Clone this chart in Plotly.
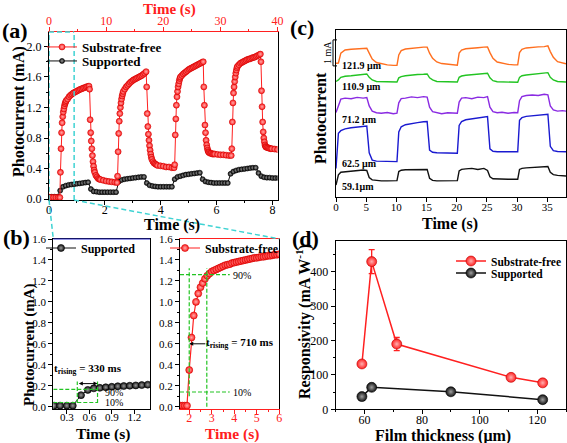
import plotly.graph_objects as go

W, H = 567, 443
FONT = "Liberation Serif"
RED = "#ff2020"
CYAN = "#3fd3d3"
GREEN = "#22c422"

# ---------------- data ----------------
# (a) substrate-free photocurrent (top time axis, 0-40 s), mA
red_pre_t = [0.0, 0.4, 0.8, 1.2, 1.6, 1.9]
red_pre_v = [0.02, 0.02, 0.02, 0.02, 0.02, 0.02]
red_on_times = [2, 12, 22, 32]
red_rel_t = [0.0, 0.1, 0.2, 0.3, 0.4, 0.5, 0.6, 0.7, 0.8, 0.9, 1.0,
             1.25, 1.5, 1.75, 2.0, 2.25, 2.5, 2.75, 3.0, 3.25, 3.5, 3.75, 4.0, 4.25, 4.5, 4.75, 5.0,
             5.1, 5.2, 5.3, 5.4, 5.5, 5.6, 5.7, 5.8, 5.9, 6.0,
             6.2, 6.4, 6.6, 6.8, 7.0, 7.5, 8.0, 8.5, 9.0, 9.5, 9.9]
red_cycle1 = [0.35, 0.66, 0.87, 1.00, 1.08, 1.14, 1.18, 1.22, 1.25, 1.27, 1.29,
              1.31, 1.34, 1.36, 1.375, 1.39, 1.40, 1.41, 1.42, 1.43, 1.44, 1.445, 1.455, 1.46, 1.47, 1.475, 1.48,
              1.44, 1.04, 0.87, 0.76, 0.66, 0.57, 0.49, 0.43, 0.38, 0.35,
              0.31, 0.29, 0.27, 0.26, 0.255, 0.245, 0.235, 0.23, 0.225, 0.22, 0.215]
red_cycle2 = [0.30, 0.62, 0.86, 1.02, 1.12, 1.20, 1.26, 1.31, 1.35, 1.38, 1.41,
              1.44, 1.47, 1.49, 1.51, 1.53, 1.545, 1.56, 1.57, 1.58, 1.59, 1.60, 1.61, 1.62, 1.635, 1.65, 1.67,
              1.47, 1.12, 0.95, 0.85, 0.77, 0.70, 0.64, 0.59, 0.55, 0.52,
              0.49, 0.47, 0.46, 0.45, 0.44, 0.435, 0.43, 0.42, 0.42, 0.41, 0.41]
red_cycle3 = [0.45, 0.84, 1.05, 1.23, 1.34, 1.41, 1.47, 1.51, 1.55, 1.58, 1.60,
              1.62, 1.64, 1.655, 1.67, 1.685, 1.70, 1.71, 1.72, 1.73, 1.74, 1.75, 1.76, 1.77, 1.78, 1.79, 1.80,
              1.47, 1.23, 0.97, 0.87, 0.77, 0.71, 0.67, 0.64, 0.62, 0.61,
              0.60, 0.60, 0.59, 0.59, 0.59, 0.585, 0.58, 0.58, 0.575, 0.57, 0.57]
red_cycle4 = [0.66, 1.01, 1.26, 1.39, 1.47, 1.54, 1.60, 1.65, 1.69, 1.72, 1.74,
              1.76, 1.78, 1.79, 1.80, 1.81, 1.82, 1.83, 1.835, 1.84, 1.85, 1.855, 1.86, 1.87, 1.88, 1.89, 1.90,
              1.80, 1.42, 1.21, 1.01, 0.88, 0.80, 0.75, 0.71, 0.69, 0.68,
              0.675, 0.67, 0.665, 0.66, 0.66, 0.655, 0.65]

# (a) supported photocurrent (bottom time axis, 0-8.2 s, 0.1 s steps), mA
black_a_t = [round(0.1 * i, 1) for i in range(83)]
black_a_v = [0.03, 0.03, 0.03, 0.03, 0.11, 0.16, 0.175, 0.185, 0.19, 0.195,
             0.20, 0.205, 0.21, 0.215, 0.22, 0.13, 0.10, 0.095, 0.09, 0.09,
             0.09, 0.09, 0.09, 0.09, 0.09, 0.23, 0.25, 0.26, 0.265, 0.27,
             0.275, 0.28, 0.285, 0.29, 0.29, 0.21, 0.18, 0.17, 0.165, 0.16,
             0.16, 0.16, 0.16, 0.16, 0.16, 0.26, 0.29, 0.30, 0.31, 0.32,
             0.325, 0.33, 0.335, 0.34, 0.345, 0.26, 0.23, 0.22, 0.215, 0.21,
             0.21, 0.21, 0.21, 0.21, 0.21, 0.33, 0.36, 0.375, 0.385, 0.39,
             0.395, 0.40, 0.405, 0.41, 0.41, 0.34, 0.30, 0.285, 0.28, 0.28,
             0.275, 0.275, 0.275]

# (b) rise-time zooms
black_b_t = [0.13, 0.21, 0.30, 0.38, 0.49, 0.58, 0.66, 0.74, 0.82, 0.90, 0.98, 1.06, 1.14, 1.22, 1.30, 1.38]
black_b_v = [0.01, 0.01, 0.01, 0.01, 0.11, 0.16, 0.175, 0.18, 0.185, 0.19, 0.195, 0.197, 0.20, 0.203, 0.206, 0.21]
red_b_t = [round(1.6 + 0.1 * i, 1) for i in range(45)]
red_b_v = [0.01, 0.01, 0.01, 0.01, 0.35, 0.66, 0.87, 1.00, 1.08, 1.14,
           1.18, 1.22, 1.25, 1.27, 1.29, 1.30, 1.31, 1.32, 1.33, 1.34,
           1.35, 1.355, 1.36, 1.37, 1.375, 1.38, 1.385, 1.39, 1.395, 1.40,
           1.405, 1.41, 1.415, 1.42, 1.42, 1.425, 1.43, 1.43, 1.435, 1.44,
           1.44, 1.445, 1.45, 1.45, 1.455]

# (c) photocurrent vs time for different film thicknesses (offset, mA)
t_c = [0, 0.4, 0.8, 1.5, 2.5, 3.5, 4.5, 5.1, 5.5, 6, 6.7, 7.5, 8.5, 9.5,
       10.1, 10.4, 10.8, 11.5, 12.5, 13.5, 14.5, 15.1, 15.5, 16, 16.7, 17.5, 18.5, 19.5,
       20.1, 20.4, 20.8, 21.5, 22.5, 23.5, 24.5, 25.1, 25.5, 26, 26.7, 27.5, 28.5, 29.5,
       30.1, 30.4, 30.8, 31.5, 32.5, 33.5, 34.5, 35.1, 35.5, 36, 36.7, 37.5, 38.1]
c_1219 = [5.14, 5.15, 5.53, 5.65, 5.68, 5.69, 5.70, 5.72, 5.53, 5.30, 5.17, 5.12, 5.08, 5.06,
          5.06, 5.46, 5.63, 5.69, 5.72, 5.74, 5.76, 5.76, 5.53, 5.33, 5.19, 5.13, 5.10, 5.08,
          5.07, 5.53, 5.65, 5.70, 5.73, 5.74, 5.76, 5.77, 5.55, 5.33, 5.19, 5.14, 5.10, 5.08,
          5.08, 5.55, 5.68, 5.73, 5.76, 5.77, 5.78, 5.81, 5.59, 5.37, 5.20, 5.14, 5.12]
c_1109 = [4.44, 4.50, 4.60, 4.64, 4.66, 4.69, 4.72, 4.73, 4.60, 4.50, 4.44, 4.43, 4.42, 4.42,
          4.42, 4.58, 4.63, 4.66, 4.69, 4.71, 4.72, 4.73, 4.58, 4.50, 4.44, 4.43, 4.42, 4.42,
          4.42, 4.60, 4.65, 4.68, 4.70, 4.72, 4.73, 4.76, 4.58, 4.47, 4.43, 4.42, 4.41, 4.41,
          4.41, 4.60, 4.66, 4.69, 4.72, 4.74, 4.77, 4.78, 4.60, 4.50, 4.44, 4.42, 4.42]
c_712 = [3.25, 3.50, 3.76, 3.80, 3.78, 3.83, 3.80, 3.82, 3.50, 3.30, 3.24, 3.22, 3.25, 3.20,
         3.22, 3.62, 3.78, 3.80, 3.85, 3.82, 3.86, 3.84, 3.45, 3.28, 3.23, 3.20, 3.24, 3.21,
         3.22, 3.65, 3.80, 3.82, 3.78, 3.84, 3.82, 3.86, 3.45, 3.28, 3.24, 3.26, 3.22, 3.25,
         3.24, 3.70, 3.86, 3.90, 3.92, 3.90, 3.95, 3.93, 3.50, 3.35, 3.30, 3.32, 3.30]
c_625 = [1.10, 2.45, 2.55, 2.62, 2.66, 2.69, 2.71, 2.73, 1.70, 1.42, 1.38, 1.37, 1.36, 1.36,
         1.36, 2.50, 2.70, 2.78, 2.83, 2.86, 2.89, 2.90, 1.80, 1.72, 1.70, 1.69, 1.69, 1.68,
         1.68, 2.75, 2.90, 2.97, 3.01, 3.04, 3.07, 3.09, 1.85, 1.76, 1.74, 1.74, 1.74, 1.74,
         1.74, 2.95, 3.05, 3.10, 3.13, 3.15, 3.17, 3.18, 1.95, 1.78, 1.75, 1.74, 1.74]
c_591 = [0.46, 0.85, 0.95, 0.97, 0.98, 1.03, 1.04, 1.02, 0.75, 0.66, 0.63, 0.62, 0.62, 0.62,
         0.63, 0.98, 1.03, 1.05, 1.06, 1.05, 1.07, 1.06, 0.72, 0.64, 0.62, 0.62, 0.62, 0.63,
         0.63, 1.00, 1.06, 1.08, 1.10, 1.06, 1.10, 1.02, 0.78, 0.70, 0.69, 0.68, 0.68, 0.68,
         0.68, 1.06, 1.10, 1.12, 1.13, 1.14, 1.16, 1.17, 0.95, 0.86, 0.83, 0.81, 0.81]
c_labels = ["121.9 μm", "110.9 μm", "71.2 μm", "62.5 μm", "59.1μm"]
c_colors = ["#ff6f1f", "#22c422", "#8a2be2", "#1a1ad0", "#111111"]

# (d) responsivity vs film thickness
thick_free = [59.1, 62.5, 71.2, 110.9, 121.9]
resp_free = [132, 430, 190, 93, 77]
resp_free_err = [8, 35, 19, 6, 5]
thick_sup = [59.1, 62.5, 90.0, 121.9]
resp_sup = [37, 64, 51, 28]

# ---------------- helpers ----------------
def px(x):
    return x / W

def py(y):
    return 1 - y / H

DOM_A_X = [px(49), px(277.5)]
DOM_A_Y = [py(200), py(32)]
DOM_BL_X = [px(53.3), px(150)]
DOM_BR_X = [px(180), px(279.3)]
DOM_B_Y = [py(409.3), py(239)]
DOM_C_X = [px(336), px(566)]
DOM_C_Y = [py(197), py(30)]
DOM_D_X = [px(335.7), px(566)]
DOM_D_Y = [py(409.3), py(241)]
XA_RANGE = [0, 8.18]


def marker(color, center, size, edge):
    return dict(symbol="circle", size=size, color=color,
                gradient=dict(type="radial", color=center),
                line=dict(width=0.6, color=edge))


fig = go.Figure()

# (a)
fig.add_trace(go.Scatter(x=black_a_t, y=black_a_v, mode="lines+markers", name="Supported",
                         xaxis="x", yaxis="y", legend="legend2",
                         line=dict(color="#111", width=1),
                         marker=marker("#111111", "#9a9a9a", 5, "#000")))
red_a_t = list(red_pre_t)
red_a_v = list(red_pre_v)
for base, vals in zip(red_on_times, [red_cycle1, red_cycle2, red_cycle3, red_cycle4]):
    for r, v in zip(red_rel_t, vals):
        red_a_t.append(round(base + r, 2))
        red_a_v.append(v)
fig.add_trace(go.Scatter(x=red_a_t, y=red_a_v, mode="lines+markers", name="Substrate-free",
                         xaxis="x2", yaxis="y", legend="legend",
                         line=dict(color=RED, width=1),
                         marker=marker(RED, "#ffaaaa", 6, "#d00000")))

# (b)
fig.add_trace(go.Scatter(x=black_b_t, y=black_b_v, mode="lines+markers", name="Supported",
                         xaxis="x3", yaxis="y3", legend="legend3",
                         line=dict(color="#111", width=1),
                         marker=marker("#111111", "#9a9a9a", 7, "#000")))
fig.add_trace(go.Scatter(x=red_b_t, y=red_b_v, mode="lines+markers", name="Substrate-free",
                         xaxis="x4", yaxis="y4", legend="legend4",
                         line=dict(color=RED, width=1.2),
                         marker=marker(RED, "#ffaaaa", 7, "#d00000")))

# (c)
for vals, col in zip([c_1219, c_1109, c_712, c_625, c_591], c_colors):
    fig.add_trace(go.Scatter(x=t_c, y=vals, mode="lines", xaxis="x5", yaxis="y5",
                             showlegend=False, line=dict(color=col, width=1.4)))

# (d)
fig.add_trace(go.Scatter(x=thick_free, y=resp_free, mode="lines+markers", name="Substrate-free",
                         xaxis="x6", yaxis="y6", legend="legend5",
                         error_y=dict(type="data", array=resp_free_err, color=RED, thickness=1.3, width=3),
                         line=dict(color=RED, width=1.5),
                         marker=marker(RED, "#ffb0b0", 10, "#c00000")))
fig.add_trace(go.Scatter(x=thick_sup, y=resp_sup, mode="lines+markers", name="Supported",
                         xaxis="x6", yaxis="y6", legend="legend6",
                         line=dict(color="#111", width=1.5),
                         marker=marker("#111111", "#a0a0a0", 10, "#000")))

# ---------------- axes ----------------
def axis(**kw):
    base = dict(showline=True, linecolor="black", linewidth=1, ticks="outside", ticklen=4,
                tickwidth=1, tickcolor="black", showgrid=False, zeroline=False, automargin=False,
                tickfont=dict(family=FONT, size=12, color="black"))
    base.update(kw)
    return base

minor = lambda d, col="black": dict(dtick=d, ticks="outside", ticklen=2, tickcolor=col, showgrid=False)
XSO = -4  # pull x tick labels closer to the axis line
XSO_B = -7

layout_axes = dict(
    xaxis=axis(domain=DOM_A_X, range=XA_RANGE, dtick=2, anchor="y", minor=minor(1),
               ticklabelstandoff=-5),
    xaxis2=axis(overlaying="x", side="top", anchor="y", range=[0, 40], dtick=10,
                linecolor=RED, tickcolor=RED, tickfont=dict(family=FONT, size=12, color=RED),
                minor=minor(5, RED), ticklabelstandoff=-3),
    yaxis=axis(domain=DOM_A_Y, range=[-0.013, 2.19], dtick=0.4, tickformat=".1f",
               anchor="x", mirror=True, minor=minor(0.2)),
    xaxis3=axis(domain=DOM_BL_X, range=[0.12, 1.41], tick0=0.3, dtick=0.3, tickformat=".1f",
                anchor="y3", mirror=True, tickfont=dict(family=FONT, size=11, color="black"),
                ticklabelstandoff=XSO_B),
    yaxis3=axis(domain=DOM_B_Y, range=[-0.025, 1.6], dtick=0.2, tickformat=".1f", anchor="x3",
                mirror=True, minor=minor(0.1), tickfont=dict(family=FONT, size=11, color="black")),
    xaxis4=axis(domain=DOM_BR_X, range=[1.59, 6.0], dtick=1, anchor="y4", mirror=True,
                linecolor=RED, tickcolor=RED, tickfont=dict(family=FONT, size=12, color=RED),
                minor=minor(0.5, RED), ticklabelstandoff=XSO_B),
    yaxis4=axis(domain=DOM_B_Y, range=[-0.025, 1.6], dtick=0.2, tickformat=".1f", anchor="x4",
                mirror=True, minor=minor(0.1), tickfont=dict(family=FONT, size=11, color="black")),
    xaxis5=axis(domain=DOM_C_X, range=[0, 38.1], dtick=5, anchor="y5", mirror=True,
                tickfont=dict(family=FONT, size=11, color="black"), ticklabelstandoff=XSO),
    yaxis5=axis(domain=DOM_C_Y, range=[0, 6.42], anchor="x5", mirror=True, ticks="",
                showticklabels=False),
    xaxis6=axis(domain=DOM_D_X, range=[50, 130], dtick=20, anchor="y6", mirror=True, minor=minor(10),
                ticklabelstandoff=-5),
    yaxis6=axis(domain=DOM_D_Y, range=[0, 490], dtick=100, anchor="x6", mirror=True, minor=minor(50)),
)


def leg(text_px, center_py, size=13):
    return dict(x=px(text_px - 40), y=py(center_py), xanchor="left", yanchor="middle",
                bgcolor="rgba(0,0,0,0)", borderwidth=0, itemwidth=30, tracegroupgap=0,
                font=dict(family=FONT, size=size, color="black", weight="bold"))


# ---------------- annotations ----------------
anns = []

def text(t, x, y, size=16, color="black", bold=True, angle=0, xanchor="center"):
    anns.append(dict(text=t, x=px(x), y=py(y), xref="paper", yref="paper", showarrow=False,
                     xanchor=xanchor, yanchor="middle", textangle=angle,
                     font=dict(family=FONT, size=size, color=color,
                               weight="bold" if bold else "normal")))

text("(a)", 15, 31, 22)
text("(b)", 16, 237, 22)
text("(c)", 302, 28, 22)
text("(d)", 305, 238, 22)
text("Time (s)", 169, 9, 15, RED)
text("Time (s)", 172, 225, 16)
text("Photocurrent (mA)", 19, 112, 16, angle=-90)
text("Photocurrent (mA)", 29, 345, 15, angle=-90)
text("Time (s)", 103, 434, 15.5)
text("Time (s)", 232, 434, 15.5, RED)
text("Photocurrent", 320, 118, 16, angle=-90)
text("Time (s)", 450, 224, 16)
text("Responsivity (mA W<sup>-1</sup>)", 303, 322, 16, angle=-90)
text("Film thickness (μm)", 443, 436, 16)
text("1 mA", 327, 53, 10, bold=False, angle=-90)

c_label_py = [65, 87, 119, 163, 187]
for lab, ypix in zip(c_labels, c_label_py):
    text(lab, 340, ypix, 10, xanchor="left")

# (b) text
text("t<sub>rising</sub> = 330 ms", 88, 369, 11)
text("90%", 114, 392, 10, bold=False)
text("10%", 114, 402, 10, bold=False)
text("t<sub>rising</sub> = 710 ms", 240, 343, 11)
text("90%", 242, 275, 10, bold=False)
text("10%", 242, 392, 10, bold=False)

# arrows
anns.append(dict(x=0.71, y=0.22, ax=0.44, ay=0.22, xref="x3", yref="y3", axref="x3", ayref="y3",
                 text="", showarrow=True, arrowhead=2, arrowsize=0.8, arrowwidth=1,
                 arrowside="end+start", arrowcolor="black"))
anns.append(dict(x=2.0, y=0.6, ax=2.78, ay=0.6, xref="x4", yref="y4", axref="x4", ayref="y4",
                 text="", showarrow=True, arrowhead=2, arrowsize=0.8, arrowwidth=1,
                 arrowcolor="black"))

# ---------------- shapes ----------------
shapes = []
gd = dict(color=GREEN, width=1.2, dash="4px,2px")
# (b) left guides
shapes += [
    dict(type="line", xref="x3", yref="y3", x0=0.12, x1=0.71, y0=0.166, y1=0.166, line=gd),
    dict(type="line", xref="x3", yref="y3", x0=0.12, x1=0.71, y0=0.04, y1=0.04, line=gd),
    dict(type="line", xref="x3", yref="y3", x0=0.44, x1=0.44, y0=0.035, y1=0.24, line=gd),
    dict(type="line", xref="x3", yref="y3", x0=0.71, x1=0.71, y0=0.035, y1=0.24, line=gd),
]
# (b) right guides
shapes += [
    dict(type="line", xref="x4", yref="y4", x0=1.59, x1=3.8, y0=1.26, y1=1.26, line=gd),
    dict(type="line", xref="x4", yref="y4", x0=1.59, x1=3.8, y0=0.14, y1=0.14, line=gd),
    dict(type="line", xref="x4", yref="y4", x0=2.0, x1=2.0, y0=0.1, y1=1.32, line=gd),
    dict(type="line", xref="x4", yref="y4", x0=2.78, x1=2.78, y0=0.0, y1=1.32, line=gd),
]
# (b) left top border (blue)
shapes.append(dict(type="line", xref="x3 domain", yref="y3 domain", x0=0, x1=1, y0=1, y1=1,
                   line=dict(color="#2a2ad0", width=1.2)))
# cyan zoom box in (a)
cd = dict(color=CYAN, width=1.5, dash="5px,3px")
shapes += [
    dict(type="line", xref="x", yref="y domain", x0=0.9, x1=0.9, y0=0, y1=1, line=cd),
    dict(type="line", xref="x", yref="y domain", x0=0, x1=0.9, y0=1, y1=1, line=cd),
    dict(type="line", xref="x", yref="y domain", x0=0, x1=0, y0=0, y1=1, line=cd),
]
xa_frac = (0.9 - XA_RANGE[0]) / (XA_RANGE[1] - XA_RANGE[0])
x_box_right = DOM_A_X[0] + xa_frac * (DOM_A_X[1] - DOM_A_X[0])
shapes += [
    dict(type="line", xref="paper", yref="paper", x0=DOM_A_X[0], y0=DOM_A_Y[0],
         x1=DOM_BL_X[0], y1=DOM_B_Y[1], line=cd),
    dict(type="line", xref="paper", yref="paper", x0=x_box_right, y0=DOM_A_Y[0],
         x1=DOM_BR_X[1], y1=DOM_B_Y[1], line=cd),
]
# (c) 1 mA scale bar
bar_low, bar_high = 5.04, 6.04
shapes += [
    dict(type="line", xref="paper", yref="y5", x0=px(333), x1=px(333), y0=bar_low, y1=bar_high,
         line=dict(color="black", width=1)),
    dict(type="line", xref="paper", yref="y5", x0=px(333), x1=px(337), y0=bar_low, y1=bar_low,
         line=dict(color="black", width=1)),
    dict(type="line", xref="paper", yref="y5", x0=px(333), x1=px(337), y0=bar_high, y1=bar_high,
         line=dict(color="black", width=1)),
]

fig.update_layout(
    width=W, height=H, autosize=False,
    margin=dict(l=0, r=0, t=0, b=0, pad=0, autoexpand=False),
    paper_bgcolor="white", plot_bgcolor="white",
    font=dict(family=FONT, size=12, color="black"),
    legend=leg(82, 47),
    legend2=leg(82, 61),
    legend3=leg(81, 248, 12),
    legend4=leg(205, 248, 12),
    legend5=leg(491, 261, 11.5),
    legend6=leg(491, 273, 11.5),
    annotations=anns,
    shapes=shapes,
    **layout_axes,
)

fig.write_html("out.html", config={"displayModeBar": False},
               post_script="document.body.style.margin='0';document.body.style.overflow='hidden';")
